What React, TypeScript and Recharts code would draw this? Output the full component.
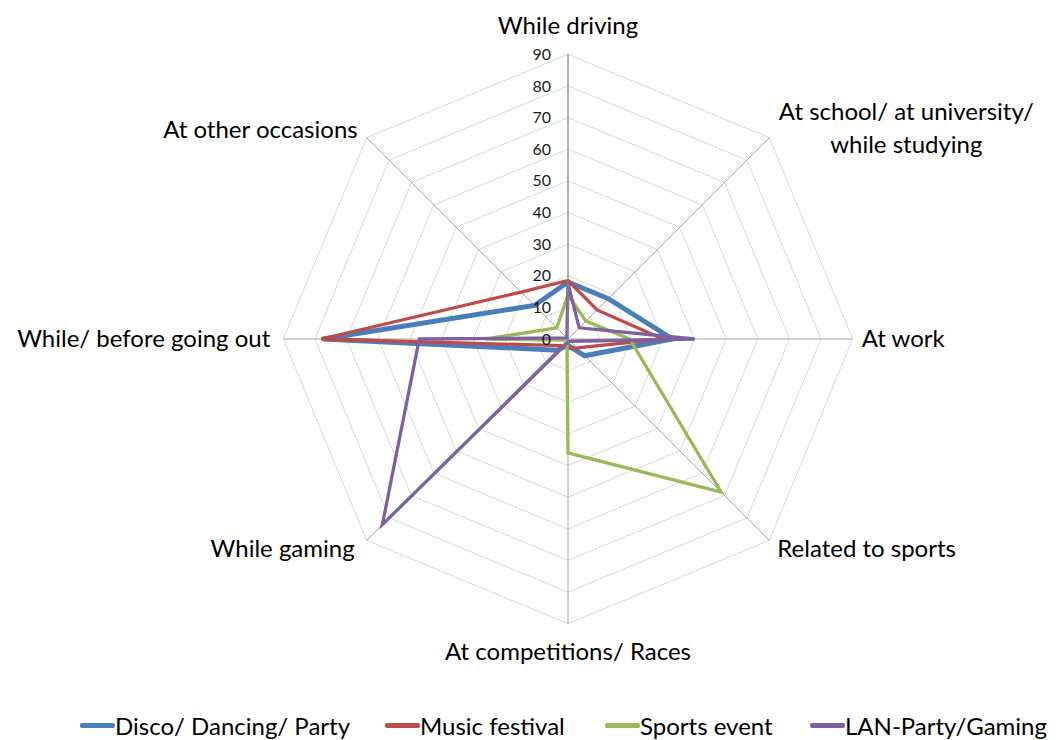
import React from 'react'
import {
  RadarChart,
  Radar,
  PolarGrid,
  PolarAngleAxis,
  PolarRadiusAxis,
  Legend,
} from 'recharts'

const CATEGORIES = [
  'While driving',
  'At school/ at university/\nwhile studying',
  'At work',
  'Related to sports',
  'At competitions/ Races',
  'While gaming',
  'While/ before going out',
  'At other occasions',
]

const DISCO = [18, 18, 33, 7.5, 2, 5, 77.5, 15]
const FESTIVAL = [18.5, 13, 30, 4, 3, 3, 78, 21]
const SPORTS = [14, 8, 19.5, 68.5, 36, 0.5, 26, 5]
const LAN = [17.5, 5, 40, 1, 1, 83, 47, 0.5]

const RADIUS_TICKS = [0, 10, 20, 30, 40, 50, 60, 70, 80, 90]

const SERIES = [
  { key: 'disco', name: 'Disco/ Dancing/ Party', color: '#4a7ebb', width: 5 },
  { key: 'festival', name: 'Music festival', color: '#be4b48', width: 3.3 },
  { key: 'sports', name: 'Sports event', color: '#98b954', width: 3.3 },
  { key: 'lan', name: 'LAN-Party/Gaming', color: '#7d60a0', width: 3.3 },
]

const data = CATEGORIES.map((category, i) => ({
  category,
  disco: DISCO[i],
  festival: FESTIVAL[i],
  sports: SPORTS[i],
  lan: LAN[i],
}))

const CX = 568
const CY = 339
const OUTER = 284.7
const FONT = 'Lato, "Open Sans", sans-serif'

// label placement relative to the end of each spoke
const LABEL_LAYOUT: { dx: number; dy: number; anchor: 'start' | 'middle' | 'end' }[] = [
  { dx: 0, dy: -29, anchor: 'middle' },
  { dx: 137, dy: -26, anchor: 'middle' },
  { dx: 9, dy: 0, anchor: 'start' },
  { dx: 8, dy: 8, anchor: 'start' },
  { dx: 0, dy: 28, anchor: 'middle' },
  { dx: -12, dy: 8, anchor: 'end' },
  { dx: -13, dy: 0, anchor: 'end' },
  { dx: -9, dy: -8, anchor: 'end' },
]

function AngleTick(props: any) {
  const { payload, index } = props
  const angle = ((90 - 45 * index) * Math.PI) / 180
  const ex = CX + OUTER * Math.cos(angle)
  const ey = CY - OUTER * Math.sin(angle)
  const lay = LABEL_LAYOUT[index]
  const lines = String(payload.value).split('\n')
  return (
    <text
      x={ex + lay.dx}
      y={ey + lay.dy}
      textAnchor={lay.anchor}
      fontFamily={FONT}
      fontSize={24}
      fill="#000"
    >
      {lines.map((line, i) => (
        <tspan key={i} x={ex + lay.dx} dy={i === 0 ? '0.35em' : 33}>
          {line}
        </tspan>
      ))}
    </text>
  )
}

function RadiusTick(props: any) {
  const { x, y, payload } = props
  return (
    <text
      x={x - 17}
      y={y}
      dy="0.35em"
      textAnchor="end"
      fontFamily={FONT}
      fontSize={16}
      fill="#1a1a1a"
    >
      {payload.value}
    </text>
  )
}

function LegendContent() {
  const lefts = [80, 385, 605, 810]
  return (
    <div style={{ position: 'relative', height: 30, width: 1062 }}>
      {SERIES.map((s, i) => (
        <div
          key={s.key}
          style={{
            position: 'absolute',
            left: lefts[i],
            top: 0,
            display: 'flex',
            alignItems: 'center',
            fontFamily: FONT,
            fontSize: 24,
            color: '#000',
            whiteSpace: 'nowrap',
          }}
        >
          <span
            style={{
              display: 'inline-block',
              width: 35,
              height: 5,
              background: s.color,
              borderRadius: 2,
            }}
          />
          {s.name}
        </div>
      ))}
    </div>
  )
}

export default function App() {
  return (
    <div style={{ position: 'absolute', left: 0, top: 0, width: 1062, height: 740, background: '#fff' }}>
      <RadarChart
        width={1062}
        height={740}
        data={data}
        cx={CX}
        cy={CY}
        outerRadius={OUTER}
        margin={{ top: 0, right: 0, bottom: 0, left: 0 }}
      >
        <PolarGrid gridType="polygon" stroke="#d9d9d9" radialLines={false} />
        <PolarGrid gridType="polygon" stroke="#a6a6a6" polarRadius={[0]} />
        <PolarAngleAxis dataKey="category" tick={AngleTick} tickLine={false} axisLine={false} />
        <PolarRadiusAxis
          angle={90}
          domain={[0, 90]}
          ticks={RADIUS_TICKS}
          tick={RadiusTick}
          tickLine={false}
          axisLine={{ stroke: '#8c8c8c' }}
        />
        {SERIES.map((s) => (
          <Radar
            key={s.key}
            dataKey={s.key}
            name={s.name}
            stroke={s.color}
            strokeWidth={s.width}
            fill="none"
            fillOpacity={0}
            dot={false}
            isAnimationActive={false}
          />
        ))}
        <Legend
          content={LegendContent}
          wrapperStyle={{ position: 'absolute', left: 0, top: 711, width: 1062 }}
        />
      </RadarChart>
    </div>
  )
}
